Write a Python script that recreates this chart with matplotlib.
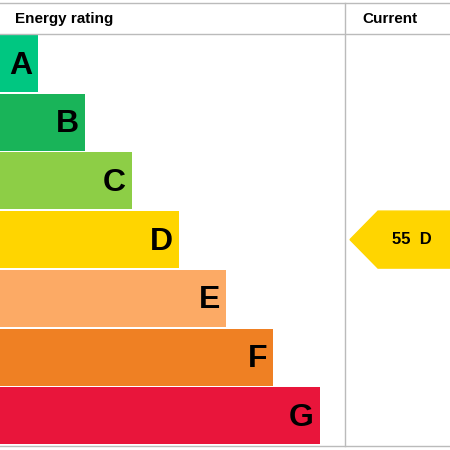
import matplotlib.pyplot as plt
from matplotlib.patches import Polygon

bands = ['A', 'B', 'C', 'D', 'E', 'F', 'G']
band_ends = [38, 85, 132, 179, 226, 273, 320]
colors = ['#00c781', '#19b459', '#8dce46', '#ffd500', '#fcaa65', '#ef8023', '#e9153b']
current_score = 55
current_band = 'D'

fig = plt.figure(figsize=(4.5, 4.5), dpi=100)
ax = fig.add_axes([0, 0, 1, 1])
ax.set_xlim(0, 450)
ax.set_ylim(450, 0)
ax.axis('off')
font = 'Liberation Sans'

# frame lines
ax.plot([0, 450], [3, 3], color='#bbbbbb', lw=1)
ax.plot([0, 450], [34, 34], color='#bbbbbb', lw=1)
ax.plot([0, 450], [446, 446], color='#bbbbbb', lw=1)
ax.plot([345, 345], [3, 446], color='#bbbbbb', lw=1)

ax.text(113, 19, 'Energy rating', ha='right', va='center', fontsize=11,
        fontweight='bold', family=font)
ax.text(362, 19, 'Current', ha='left', va='center', fontsize=11,
        fontweight='bold', family=font)

top, h, gap = 35, 57, 1.7
for i, (b, e, c) in enumerate(zip(bands, band_ends, colors)):
    y0 = top + i * (h + gap)
    ax.barh(y0 + h / 2, e + 10, left=-10, height=h, color=c)
    ax.text(e - 6, y0 + h / 2 + 2, b, ha='right', va='center', fontsize=23,
            fontweight='bold', family=font)

idx = bands.index(current_band)
y0 = top + idx * (h + gap)
ym = y0 + h / 2
ax.add_patch(Polygon([(350, ym), (378, y0), (460, y0), (460, y0 + h), (378, y0 + h)],
                     closed=True, color=colors[idx]))
ax.text(412, ym, f'{current_score}  {current_band}', ha='center', va='center',
        fontsize=12, fontweight='bold', family=font)

fig.savefig('out.png', dpi=100)
